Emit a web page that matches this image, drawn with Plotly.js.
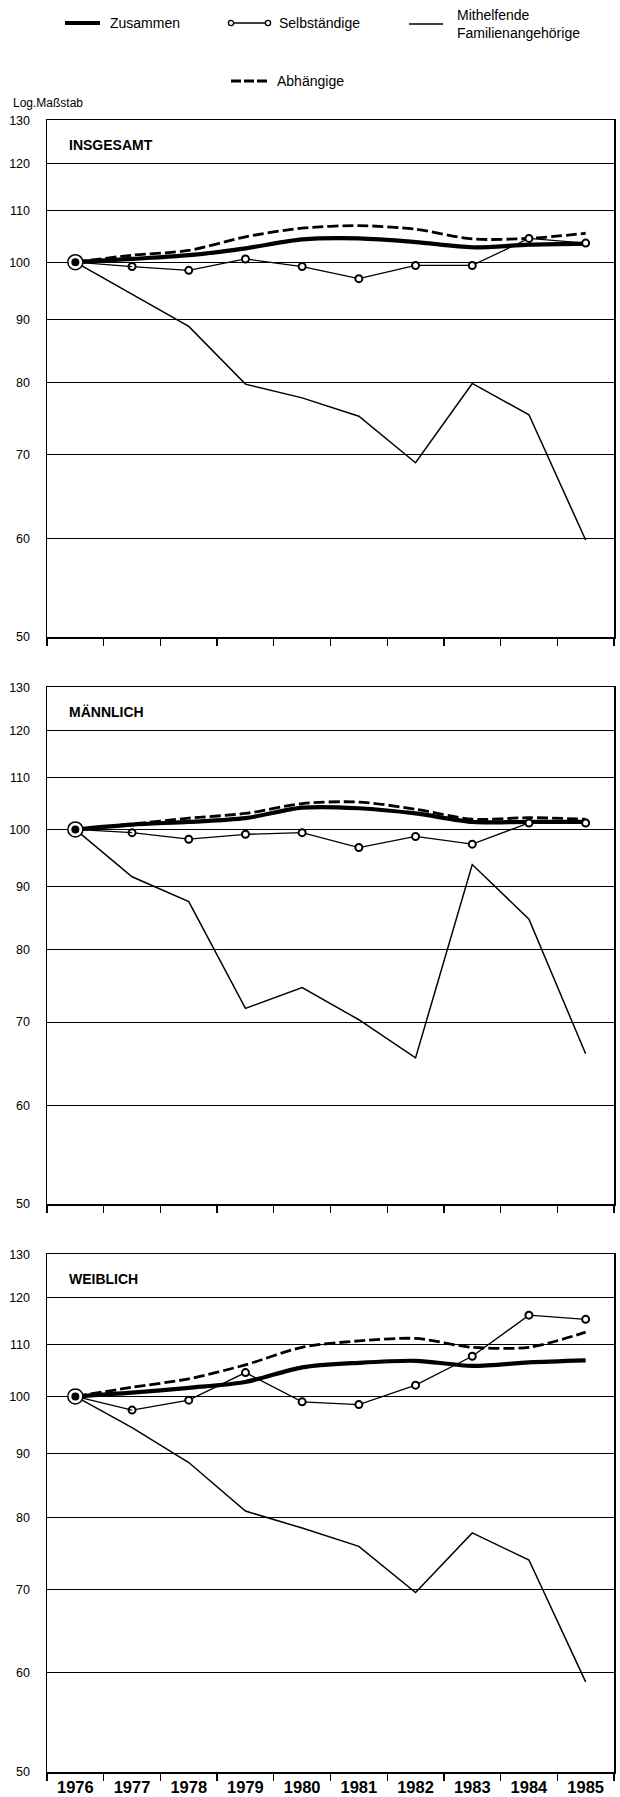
<!DOCTYPE html>
<html>
<head>
<meta charset="utf-8">
<script src="https://cdn.plot.ly/plotly-3.0.1.min.js"></script>
<style>
  html, body { margin: 0; padding: 0; background: #ffffff; }
  #chart { width: 620px; height: 1797px; }
</style>
</head>
<body>
<div id="chart"></div>
<script>
// ---------------- DATA ----------------
const years = ['1976', '1977', '1978', '1979', '1980', '1981', '1982', '1983', '1984', '1985'];
const yTickVals = [50, 60, 70, 80, 90, 100, 110, 120, 130];
const yTickText = ['50', '60', '70', '80', '90', '100', '110', '120', '130'];
const panelTitles = ['INSGESAMT', 'MÄNNLICH', 'WEIBLICH'];
const seriesNames = ['Zusammen', 'Selbständige', 'Mithelfende<br>Familienangehörige', 'Abhängige'];
const scaleNote = 'Log.Maßstab';
const baseValue = 100;

// INSGESAMT
const insZusammen     = [100, 100.6, 101.3, 102.6, 104.3, 104.5, 103.8, 102.8, 103.3, 103.5];
const insSelbstaendig = [100, 99.2, 98.5, 100.6, 99.2, 97.0, 99.4, 99.4, 104.5, 103.6];
const insMithelfend   = [100, 94.3, 88.8, 79.8, 77.8, 75.2, 69.0, 79.9, 75.4, 59.8];
const insAbhaengig    = [100, 101.3, 102.2, 104.8, 106.5, 107.0, 106.3, 104.4, 104.5, 105.5];

// MÄNNLICH
const manZusammen     = [100, 100.9, 101.4, 102.1, 104.1, 104.0, 103.0, 101.4, 101.4, 101.4];
const manSelbstaendig = [100, 99.4, 98.2, 99.1, 99.4, 96.7, 98.7, 97.3, 101.2, 101.2];
const manMithelfend   = [100, 91.6, 87.5, 71.8, 74.6, 70.3, 65.5, 93.7, 84.7, 66.0];
const manAbhaengig    = [100, 101.0, 102.1, 103.0, 104.9, 105.2, 103.8, 101.9, 102.2, 101.9];

// WEIBLICH
const weiZusammen     = [100, 100.7, 101.6, 102.7, 105.5, 106.4, 106.8, 105.8, 106.5, 106.9];
const weiSelbstaendig = [100, 97.5, 99.3, 104.5, 99.0, 98.5, 102.1, 107.7, 116.2, 115.3];
const weiMithelfend   = [100, 94.4, 88.5, 80.9, 78.4, 75.8, 69.6, 77.7, 73.9, 59.0];
const weiAbhaengig    = [100, 101.7, 103.3, 106.0, 109.5, 110.8, 111.3, 109.5, 109.5, 112.6];

const panels = [
  {title: panelTitles[0], zus: insZusammen, selb: insSelbstaendig, mith: insMithelfend, abh: insAbhaengig},
  {title: panelTitles[1], zus: manZusammen, selb: manSelbstaendig, mith: manMithelfend, abh: manAbhaengig},
  {title: panelTitles[2], zus: weiZusammen, selb: weiSelbstaendig, mith: weiMithelfend, abh: weiAbhaengig}
];

// ---------------- GEOMETRY ----------------
const W = 620, H = 1797;
const L = 47, R = 6, T = 120, B = 25;
const PW = W - L - R, PH = H - T - B;
const panelPx = [[120, 637.3], [687.3, 1204.3], [1254, 1772]];
const px2y = (py) => 1 - (py - T) / PH;
const px2x = (px) => (px - L) / PW;

const FONT = 'Liberation Sans, Arial, Helvetica, sans-serif';
const NARROW = 'Liberation Sans Narrow, Arial Narrow, Liberation Sans, Arial, sans-serif';

const traces = [];
const layout = {
  width: W, height: H,
  margin: {l: L, r: R, t: T, b: B, pad: 0},
  paper_bgcolor: '#ffffff', plot_bgcolor: '#ffffff',
  showlegend: false,
  font: {family: FONT, color: '#000000', size: 12},
  shapes: [], annotations: []
};

panels.forEach((p, i) => {
  const sfx = i === 0 ? '' : String(i + 1);
  const xa = 'x' + sfx, ya = 'y' + sfx;
  const top = panelPx[i][0], bot = panelPx[i][1];

  layout['xaxis' + sfx] = {
    type: 'category', anchor: ya, domain: [0, 1],
    range: [-0.5, years.length - 0.5],
    tickson: 'boundaries', ticks: 'outside', ticklen: 7, tickwidth: 1.3, tickcolor: '#000',
    showgrid: false, zeroline: false,
    showline: true, mirror: true, linecolor: '#000', linewidth: 1.5,
    showticklabels: i === 2,
    tickfont: {family: NARROW, size: 16.5, color: '#000', weight: 'bold'},
    fixedrange: true
  };
  layout['yaxis' + sfx] = {
    type: 'log', anchor: xa,
    domain: [px2y(bot), px2y(top)],
    range: [Math.log10(49.95), Math.log10(130.1)],
    tickmode: 'array', tickvals: yTickVals, ticktext: yTickText,
    ticks: '', ticklabelstandoff: 13,
    tickfont: {family: FONT, size: 12.5, color: '#000'},
    showgrid: true, gridcolor: '#000', gridwidth: 1,
    zeroline: false,
    showline: true, mirror: true, linecolor: '#000', linewidth: 1.5,
    fixedrange: true
  };

  // thick base line at 100 extending left of the frame
  layout.shapes.push({
    type: 'line', layer: 'between', xref: 'paper', yref: ya,
    x0: -8 / PW, x1: 1, y0: Math.log10(baseValue), y1: Math.log10(baseValue),
    line: {color: '#000', width: 2.2}
  });

  layout.annotations.push({
    xref: 'paper', yref: 'paper', x: px2x(67), y: px2y(top + 25),
    xanchor: 'left', yanchor: 'middle', showarrow: false,
    text: '<b>' + p.title + '</b>',
    font: {family: FONT, size: 14, color: '#000'}
  });

  traces.push({
    x: years, y: p.mith, xaxis: xa, yaxis: ya, type: 'scatter', mode: 'lines',
    line: {color: '#000', width: 1.5}, hoverinfo: 'skip'
  });
  traces.push({
    x: years, y: p.abh, xaxis: xa, yaxis: ya, type: 'scatter', mode: 'lines',
    line: {color: '#000', width: 2.8, dash: '11px,4px', shape: 'spline', smoothing: 0.8}, hoverinfo: 'skip'
  });
  traces.push({
    x: years, y: p.zus, xaxis: xa, yaxis: ya, type: 'scatter', mode: 'lines',
    line: {color: '#000', width: 4.2, shape: 'spline', smoothing: 0.8}, hoverinfo: 'skip'
  });
  traces.push({
    x: years.slice(1), y: p.selb.slice(1), xaxis: xa, yaxis: ya, type: 'scatter', mode: 'lines+markers',
    line: {color: '#000', width: 1.3},
    marker: {symbol: 'circle', size: 7, color: '#fff', line: {color: '#000', width: 2}},
    hoverinfo: 'skip'
  });
  traces.push({
    x: years.slice(0, 2), y: p.selb.slice(0, 2), xaxis: xa, yaxis: ya, type: 'scatter', mode: 'lines',
    line: {color: '#000', width: 1.3}, hoverinfo: 'skip'
  });
  // start point bullseye
  traces.push({
    x: [years[0]], y: [p.zus[0]], xaxis: xa, yaxis: ya, type: 'scatter', mode: 'markers',
    marker: {symbol: 'circle', size: 15, color: '#fff', line: {color: '#000', width: 1.5}}, hoverinfo: 'skip'
  });
  traces.push({
    x: [years[0]], y: [p.zus[0]], xaxis: xa, yaxis: ya, type: 'scatter', mode: 'markers',
    marker: {symbol: 'circle', size: 8, color: '#000', line: {width: 0}}, hoverinfo: 'skip'
  });
});

// ---------------- LEGEND (drawn manually) ----------------
function hLine(x0, x1, y, width, dash) {
  layout.shapes.push({
    type: 'line', xref: 'paper', yref: 'paper',
    x0: px2x(x0), x1: px2x(x1), y0: px2y(y), y1: px2y(y),
    line: {color: '#000', width: width, dash: dash || 'solid'}
  });
}
function smallCircle(cx, cy, r) {
  layout.shapes.push({
    type: 'circle', xref: 'paper', yref: 'paper',
    x0: px2x(cx - r), x1: px2x(cx + r), y0: px2y(cy + r), y1: px2y(cy - r),
    fillcolor: '#fff', line: {color: '#000', width: 1.3}
  });
}
function label(text, x, y, size) {
  layout.annotations.push({
    xref: 'paper', yref: 'paper', x: px2x(x), y: px2y(y),
    xanchor: 'left', yanchor: 'middle', align: 'left', showarrow: false,
    text: text, font: {family: FONT, size: size, color: '#000'}
  });
}

hLine(65, 100, 23, 4.2);
label(seriesNames[0], 108, 23, 14);

hLine(231, 268, 23, 1.3);
smallCircle(231, 23, 2.6);
smallCircle(268, 23, 2.6);
label(seriesNames[1], 277, 23, 14);

hLine(409, 443, 24, 1.5);
label(seriesNames[2], 455, 24, 14);

hLine(231, 268, 81, 3, '10px,3px');
label(seriesNames[3], 275, 81, 14);

label(scaleNote, 11, 103, 12);

Plotly.newPlot('chart', traces, layout, {staticPlot: true, displayModeBar: false});
</script>
</body>
</html>
